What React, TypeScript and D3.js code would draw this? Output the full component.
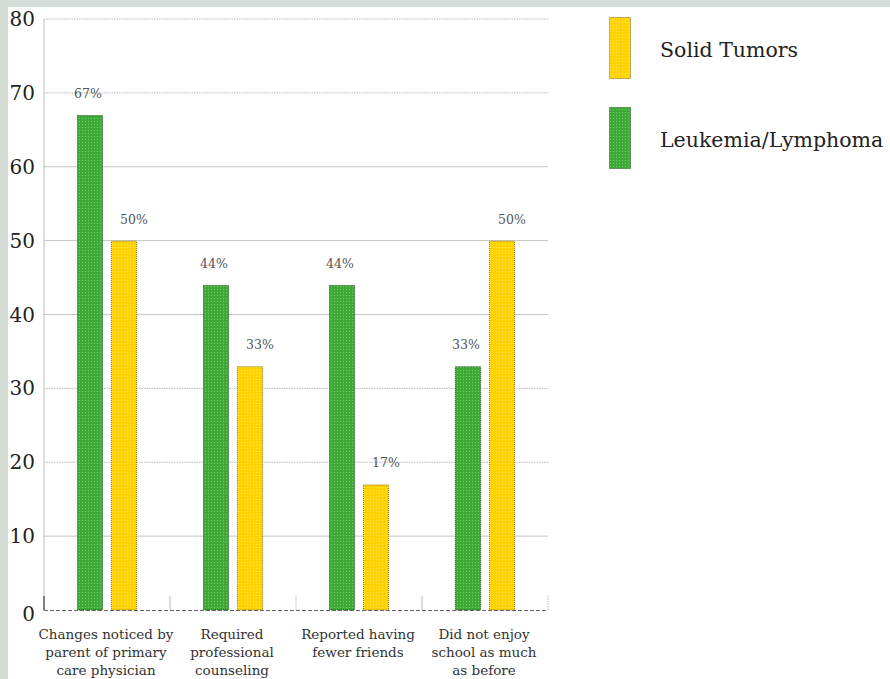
import React, { useEffect } from "react";
import * as d3 from "d3";

const categories = [
  ["Changes noticed by", "parent of primary", "care physician"],
  ["Required", "professional", "counseling"],
  ["Reported having", "fewer friends"],
  ["Did not enjoy", "school as much", "as before"],
];
const seriesNames = ["Leukemia/Lymphoma", "Solid Tumors"];
const leukemiaValues = [67, 44, 44, 33];
const solidTumorValues = [50, 33, 17, 50];
const yTicks = [0, 10, 20, 30, 40, 50, 60, 70, 80];
const dottedTicks = [20, 30, 70, 80];
const legendOrder = ["Solid Tumors", "Leukemia/Lymphoma"];

const W = 890;
const H = 679;
const plot = { left: 44, right: 548, top: 19, bottom: 610 };
const colors: Record<string, { fill: string; dot: string; stroke: string }> = {
  "Leukemia/Lymphoma": { fill: "#3ea936", dot: "#70d064", stroke: "#24501f" },
  "Solid Tumors": { fill: "#ffd200", dot: "#ffe84a", stroke: "#8a7220" },
};
const serif = "'DejaVu Serif', 'Liberation Serif', serif";

export default function App() {
  useEffect(() => {
    document.body.style.margin = "0";
  }, []);

  const catKeys = categories.map((c) => c.join(" "));
  const x = d3.scaleBand<string>().domain(catKeys).range([plot.left, plot.right]).paddingInner(0).paddingOuter(0);
  const bw = x.bandwidth();
  const inner = d3
    .scaleBand<string>()
    .domain(seriesNames)
    .range([bw * 0.262, bw * 0.738])
    .paddingInner(8 / 34);
  const y = d3.scaleLinear().domain([0, 80]).range([plot.bottom, plot.top]);
  const seriesData: Record<string, number[]> = {
    "Leukemia/Lymphoma": leukemiaValues,
    "Solid Tumors": solidTumorValues,
  };
  const labelOffset: Record<string, number> = { "Leukemia/Lymphoma": -2, "Solid Tumors": 10 };

  return (
    <svg width={W} height={H} style={{ display: "block", background: "#fff" }}>
      <defs>
        {seriesNames.map((s, i) => (
          <pattern key={s} id={`pat${i}`} width={3} height={3} patternUnits="userSpaceOnUse">
            <rect width={3} height={3} fill={colors[s].fill} />
            <rect x={1} y={1} width={1} height={1} fill={colors[s].dot} />
          </pattern>
        ))}
      </defs>
      <rect x={0} y={0} width={W} height={7} fill="#d6ddd7" />
      <rect x={0} y={0} width={8} height={H} fill="#d6ddd7" />

      {/* grid */}
      {yTicks.filter((t) => t > 0).map((t) => (
        <line
          key={t}
          x1={plot.left}
          x2={plot.right}
          y1={y(t)}
          y2={y(t)}
          stroke={dottedTicks.includes(t) ? "#b8b8b8" : "#c4c4c4"}
          strokeWidth={1}
          strokeDasharray={dottedTicks.includes(t) ? "1.5,1" : undefined}
        />
      ))}
      {/* y axis */}
      <line x1={plot.left} x2={plot.left} y1={plot.top} y2={plot.bottom} stroke="#bdbdbd" />
      <line x1={plot.left} x2={plot.left} y1={plot.bottom - 14} y2={plot.bottom} stroke="#222" />
      {yTicks.map((t) => (
        <text
          key={t}
          x={35}
          y={y(t) + (t === 0 ? 4 : 0)}
          textAnchor="end"
          dominantBaseline="central"
          fontFamily={serif}
          fontSize={20}
          fill="#222"
        >
          {t}
        </text>
      ))}
      {/* category separators */}
      {catKeys.map((c, i) => {
        const xx = (x(c) as number) + bw;
        return (
          <line
            key={c}
            x1={xx}
            x2={xx}
            y1={plot.bottom - 14}
            y2={plot.bottom}
            stroke="#bbb"
            strokeDasharray={i % 2 === 1 ? "1.5,1" : undefined}
          />
        );
      })}

      {/* bars */}
      {seriesNames.map((s, si) =>
        catKeys.map((c, ci) => {
          const v = seriesData[s][ci];
          const bx = (x(c) as number) + (inner(s) as number);
          const by = y(v);
          return (
            <g key={s + c}>
              <rect
                x={bx + 0.5}
                y={by + 0.5}
                width={inner.bandwidth() - 1}
                height={plot.bottom - by - 0.5}
                fill={`url(#pat${si})`}
                stroke={colors[s].stroke}
                strokeDasharray="1,1"
              />
              <text
                x={bx + inner.bandwidth() / 2 + labelOffset[s]}
                y={by - 17}
                textAnchor="middle"
                fontFamily={serif}
                fontSize={12.5}
                fill="#555"
              >
                {`${v}%`}
              </text>
            </g>
          );
        })
      )}

      {/* bottom axis */}
      <line x1={plot.left} x2={plot.right} y1={plot.bottom + 0.5} y2={plot.bottom + 0.5} stroke="#666" strokeDasharray="4,2" />
      {categories.map((lines, i) => {
        const cx = (x(catKeys[i]) as number) + bw / 2 - 1;
        return (
          <text key={i} textAnchor="middle" fontFamily={serif} fontSize={13.5} fill="#333">
            {lines.map((l, j) => (
              <tspan key={j} x={cx} y={639 + j * 18}>
                {l}
              </tspan>
            ))}
          </text>
        );
      })}

      {/* legend */}
      {legendOrder.map((s, i) => {
        const si = seriesNames.indexOf(s);
        const ly = 17 + i * 90;
        return (
          <g key={s}>
            <rect
              x={609.5}
              y={ly + 0.5}
              width={21}
              height={61}
              fill={`url(#pat${si})`}
              stroke={colors[s].stroke}
              strokeDasharray="1,1"
            />
            <text x={660} y={ly + 40} fontFamily={serif} fontSize={20.5} fill="#222">
              {s}
            </text>
          </g>
        );
      })}
    </svg>
  );
}
